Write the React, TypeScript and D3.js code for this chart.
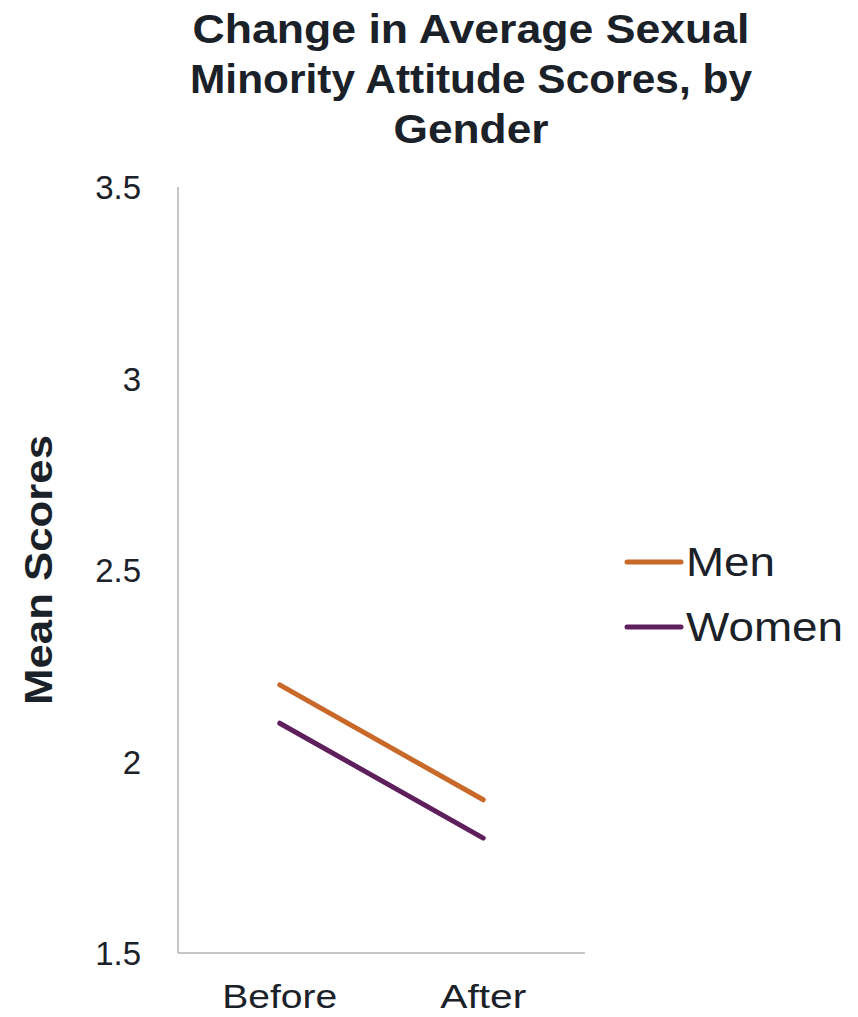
import React from "react";
import * as d3 from "d3";

const categories = ["Before", "After"];
const menValues = [2.2, 1.9];
const womenValues = [2.1, 1.8];
const yTicks = [1.5, 2, 2.5, 3, 3.5];
const seriesNames = ["Men", "Women"];
const seriesColors = ["#C8692A", "#5E1F5C"];
const titleLines = ["Change in Average Sexual", "Minority Attitude Scores, by", "Gender"];

export default function App() {
  const W = 858, H = 1017;
  const left = 178, right = 585, top = 187, bottom = 953;
  const x = d3.scaleBand().domain(categories).range([left, right]);
  const y = d3.scaleLinear().domain([1.5, 3.5]).range([bottom, top]);
  const line = d3.line<number>()
    .x((_, i) => (x(categories[i]) as number) + x.bandwidth() / 2)
    .y((d) => y(d));
  const series = [menValues, womenValues];
  const font = "'Liberation Sans', Arial, sans-serif";
  const titleWidths = [557, 562, 155];
  const titleY = [43, 93, 143];
  const catWidths = [115, 86];
  const legendWidths = [89, 157];
  return (
    <svg width={W} height={H} style={{ position: "absolute", left: 0, top: 0 }} fontFamily={font}>
      <rect width={W} height={H} fill="#fff" />
      {titleLines.map((t, i) => (
        <text key={t} x={471} y={titleY[i]} textAnchor="middle" fontSize={40} fontWeight="bold" fill="#1B2128"
          textLength={titleWidths[i]} lengthAdjust="spacingAndGlyphs">{t}</text>
      ))}
      <line x1={left} x2={left} y1={top} y2={bottom} stroke="#B3B3B3" strokeWidth={1.5} />
      <line x1={left} x2={right} y1={bottom} y2={bottom} stroke="#B3B3B3" strokeWidth={1.5} />
      {yTicks.map((t) => (
        <text key={t} x={141} y={y(t) + 12} textAnchor="end" fontSize={33} fill="#1B2128">{String(t)}</text>
      ))}
      {categories.map((c, i) => (
        <text key={c} x={(x(c) as number) + x.bandwidth() / 2} y={1008} textAnchor="middle" fontSize={33} fill="#1B2128"
          textLength={catWidths[i]} lengthAdjust="spacingAndGlyphs">{c}</text>
      ))}
      <text transform={`translate(52,570) rotate(-90)`} textAnchor="middle" fontSize={38} fontWeight="bold" fill="#1B2128"
        textLength={270} lengthAdjust="spacingAndGlyphs">Mean Scores</text>
      {series.map((s, i) => (
        <path key={i} d={line(s) as string} fill="none" stroke={seriesColors[i]} strokeWidth={5} strokeLinecap="round" />
      ))}
      {seriesNames.map((n, i) => (
        <g key={n} transform={`translate(0,${562 + i * 65})`}>
          <line x1={627} x2={681} y1={0} y2={0} stroke={seriesColors[i]} strokeWidth={5} strokeLinecap="round" />
          <text x={686} y={14} fontSize={40} fill="#1B2128" textLength={legendWidths[i]} lengthAdjust="spacingAndGlyphs">{n}</text>
        </g>
      ))}
    </svg>
  );
}
